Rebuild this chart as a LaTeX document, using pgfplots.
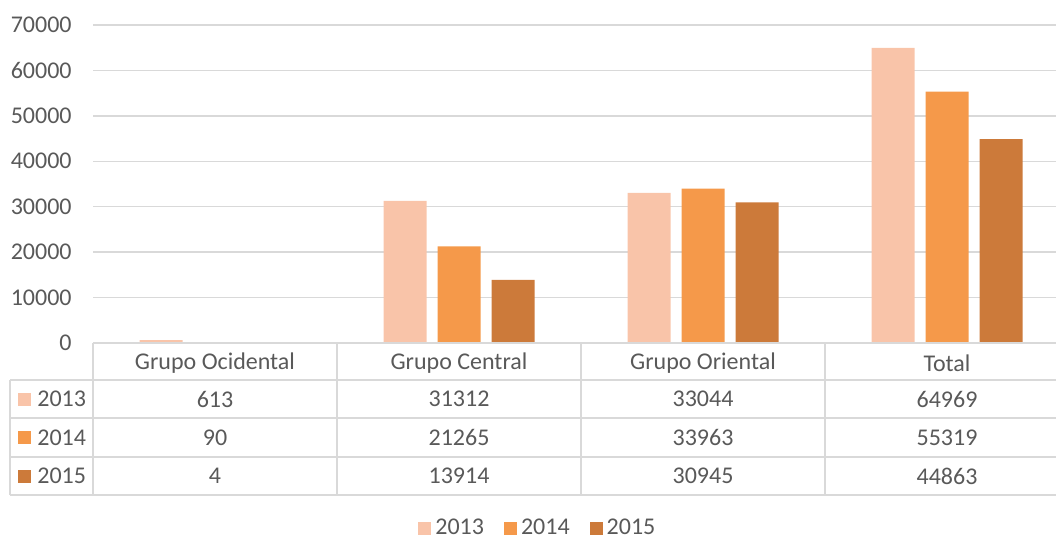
\documentclass[border=0pt]{standalone}
\usepackage{pgfplots}
\pgfplotsset{compat=1.18}
\usepackage{fontspec}
\setmainfont{Carlito}
\definecolor{txt}{HTML}{595959}
\definecolor{gridc}{HTML}{D9D9D9}
\definecolor{cA}{HTML}{F9C4A9}
\definecolor{cB}{HTML}{F5994A}
\definecolor{cC}{HTML}{CC7A3A}
\begin{document}
\fontsize{12}{14}\selectfont
\begin{tikzpicture}
\useasboundingbox (0,0) rectangle (528pt,269pt);
\begin{axis}[
  at={(46.5pt,97.5pt)}, anchor=south west,
  scale only axis, width=481.5pt, height=159pt,
  xmin=-0.5, xmax=3.4467, ymin=0, ymax=70000,
  ytick={0,10000,...,70000},
  xtick=\empty,
  ymajorgrids, grid style={gridc, line width=0.75pt},
  axis line style={draw=none},
  major tick length=0pt,
  yticklabel style={inner sep=0pt, xshift=-10.5pt, font=\fontsize{12}{14}\selectfont, text=txt},
  /pgf/number format/assume math mode=true,
  scaled y ticks=false,
  y tick label style={/pgf/number format/.cd, set thousands separator={}},
  ybar, bar width=21.5pt,
  clip=false,
  legend style={at={(0.463,-0.584)}, anchor=center, draw=none, fill=none,
    legend columns=3, font=\fontsize{12}{14}\selectfont, text=txt,
    inner sep=0pt,
    /tikz/every even column/.append style={column sep=8pt}},
  legend cell align=left,
  legend image code/.code={\fill[#1] (0pt,-3.25pt) rectangle (6.5pt,3.25pt);},
]
\addplot[fill=cA, draw=none, bar shift=-27pt] coordinates {(0,613) (1,31312) (2,33044) (3,64969)};
\addplot[fill=cB, draw=none, bar shift=0pt] coordinates {(0,90) (1,21265) (2,33963) (3,55319)};
\addplot[fill=cC, draw=none, bar shift=27pt] coordinates {(0,4) (1,13914) (2,30945) (3,44863)};
\legend{2013,2014,2015}
\end{axis}
% table grid
\begin{scope}[gridc, line width=1pt]
\draw (46.5pt,97.5pt) -- (528pt,97.5pt);
\foreach \yy in {79,60,40.5,21.5} \draw (5pt,\yy pt) -- (528pt,\yy pt);
\draw (5pt,79pt) -- (5pt,21.5pt);
\foreach \xx in {46.5,168.5,290.5,412.5} \draw (\xx pt,97.5pt) -- (\xx pt,21.5pt);
\end{scope}
\begin{scope}[text=txt]
\node at (107.5pt,87.5pt) {Grupo Ocidental};
\node at (229.5pt,87.5pt) {Grupo Central};
\node at (351.5pt,87.5pt) {Grupo Oriental};
\node at (473.5pt,87.5pt) {Total};
\node at (107.5pt,69.5pt) {613};   \node at (229.5pt,69.5pt) {31312}; \node at (351.5pt,69.5pt) {33044}; \node at (473.5pt,69.5pt) {64969};
\node at (107.5pt,50.25pt) {90};  \node at (229.5pt,50.25pt) {21265}; \node at (351.5pt,50.25pt) {33963}; \node at (473.5pt,50.25pt) {55319};
\node at (107.5pt,31pt) {4};      \node at (229.5pt,31pt) {13914}; \node at (351.5pt,31pt) {30945}; \node at (473.5pt,31pt) {44863};
\fill[cA] (9pt,66.25pt) rectangle (15.5pt,72.75pt); \node[anchor=west, inner sep=0pt] at (18.5pt,69.5pt) {2013};
\fill[cB] (9pt,47pt) rectangle (15.5pt,53.5pt); \node[anchor=west, inner sep=0pt] at (18.5pt,50.25pt) {2014};
\fill[cC] (9pt,27.75pt) rectangle (15.5pt,34.25pt); \node[anchor=west, inner sep=0pt] at (18.5pt,31pt) {2015};
\end{scope}
\end{tikzpicture}
\end{document}
